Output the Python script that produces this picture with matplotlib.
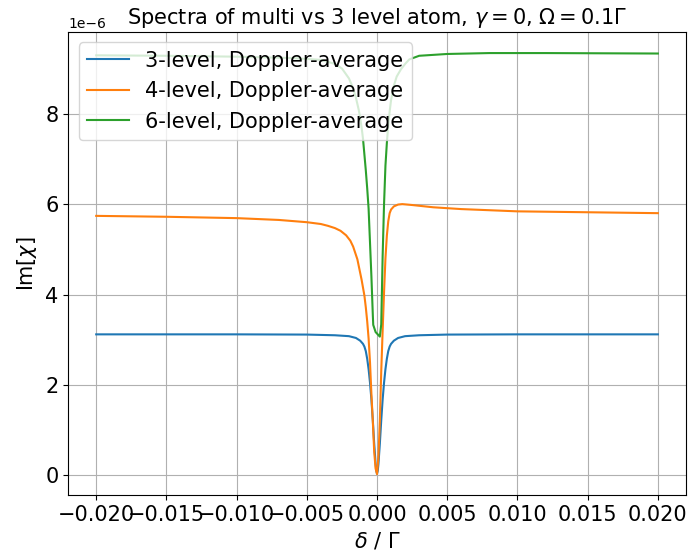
import matplotlib
matplotlib.use("Agg")
import matplotlib.pyplot as plt

# detuning in units of Gamma
x_blue = [-0.02, -0.01, -0.005, -0.003, -0.002, -0.0015, -0.0012, -0.001, -0.0009, -0.0008,
          -0.0007, -0.0006, -0.0005, -0.0004, -0.0003, -0.0002, -0.0001, -0.00005, 0.0,
          0.00005, 0.0001, 0.0002, 0.0003, 0.0004, 0.0005, 0.0006, 0.0007, 0.0008,
          0.0009, 0.001, 0.0012, 0.0015, 0.002, 0.003, 0.005, 0.01, 0.02]
y_blue = [3.12, 3.12, 3.115, 3.10, 3.08, 3.04, 2.98, 2.91, 2.85, 2.75,
          2.58, 2.35, 2.05, 1.68, 1.22, 0.70, 0.25, 0.10, 0.04,
          0.10, 0.25, 0.70, 1.22, 1.68, 2.05, 2.35, 2.58, 2.75,
          2.85, 2.91, 2.98, 3.04, 3.08, 3.10, 3.115, 3.12, 3.12]

x_orange = [-0.02, -0.015, -0.01, -0.007, -0.005, -0.004, -0.0035, -0.003, -0.0026,
            -0.0022, -0.0019, -0.0017, -0.0014, -0.0011, -0.0009, -0.0008, -0.0007,
            -0.0006, -0.0005, -0.0004, -0.0003, -0.0002, -0.0001,
            0.0, 0.0001, 0.0002, 0.0003, 0.0004, 0.0005, 0.0006, 0.0007, 0.0008,
            0.0009, 0.001, 0.0012, 0.0015, 0.0018, 0.0025, 0.004, 0.006, 0.01,
            0.015, 0.02]
y_orange = [5.74, 5.72, 5.69, 5.65, 5.60, 5.56, 5.52, 5.47, 5.41,
            5.31, 5.19, 5.06, 4.78, 4.33, 3.98, 3.72, 3.41,
            3.03, 2.50, 1.80, 1.20, 0.52, 0.15,
            0.03, 0.40, 1.20, 2.30, 3.20, 4.05, 4.80, 5.30, 5.62,
            5.80, 5.88, 5.95, 5.99, 6.00, 5.98, 5.93, 5.89, 5.84,
            5.82, 5.80]

x_green = [-0.02, -0.015, -0.01, -0.006, -0.004, -0.003, -0.0025, -0.002, -0.0017,
           -0.0015, -0.0013, -0.0012, -0.0011, -0.001, -0.0009, -0.0008, -0.0007,
           -0.0006, -0.0005, -0.0004, -0.0003, -0.00027, -0.0001, 0.0002, 0.0003,
           0.0004, 0.0005, 0.0006, 0.0007, 0.0008, 0.0009, 0.001, 0.0012, 0.0014,
           0.0017, 0.002, 0.0023, 0.003, 0.005, 0.008, 0.012, 0.02]
y_green = [9.29, 9.28, 9.26, 9.23, 9.19, 9.10, 9.00, 8.78, 8.56,
           8.35, 8.08, 7.90, 7.70, 7.45, 7.10, 6.75, 6.35,
           5.90, 5.15, 4.40, 3.55, 3.33, 3.17, 3.07, 3.34,
           4.85, 6.00, 6.85, 7.35, 7.75, 8.05, 8.30, 8.62, 8.82,
           8.98, 9.10, 9.20, 9.28, 9.32, 9.34, 9.34, 9.33]

labels = ["3-level, Doppler-average", "4-level, Doppler-average", "6-level, Doppler-average"]

plt.rcParams["font.size"] = 15

fig, ax = plt.subplots(figsize=(6.88, 5.52), dpi=100)
fig.subplots_adjust(left=0.099, right=0.997, bottom=0.103, top=0.942)

ax.plot(x_blue, [v * 1e-6 for v in y_blue], label=labels[0])
ax.plot(x_orange, [v * 1e-6 for v in y_orange], label=labels[1])
ax.plot(x_green, [v * 1e-6 for v in y_green], label=labels[2])

ax.set_xlabel(r"$\delta$ / $\Gamma$")
ax.set_ylabel(r"Im[$\chi$]")
ax.set_title(r"Spectra of multi vs 3 level atom, $\gamma = 0$, $\Omega = 0.1\Gamma$", fontsize=15)
ax.yaxis.get_offset_text().set_fontsize(10)
ax.grid(True)
ax.legend(loc="upper left", fontsize=15)

fig.savefig("out.png")
